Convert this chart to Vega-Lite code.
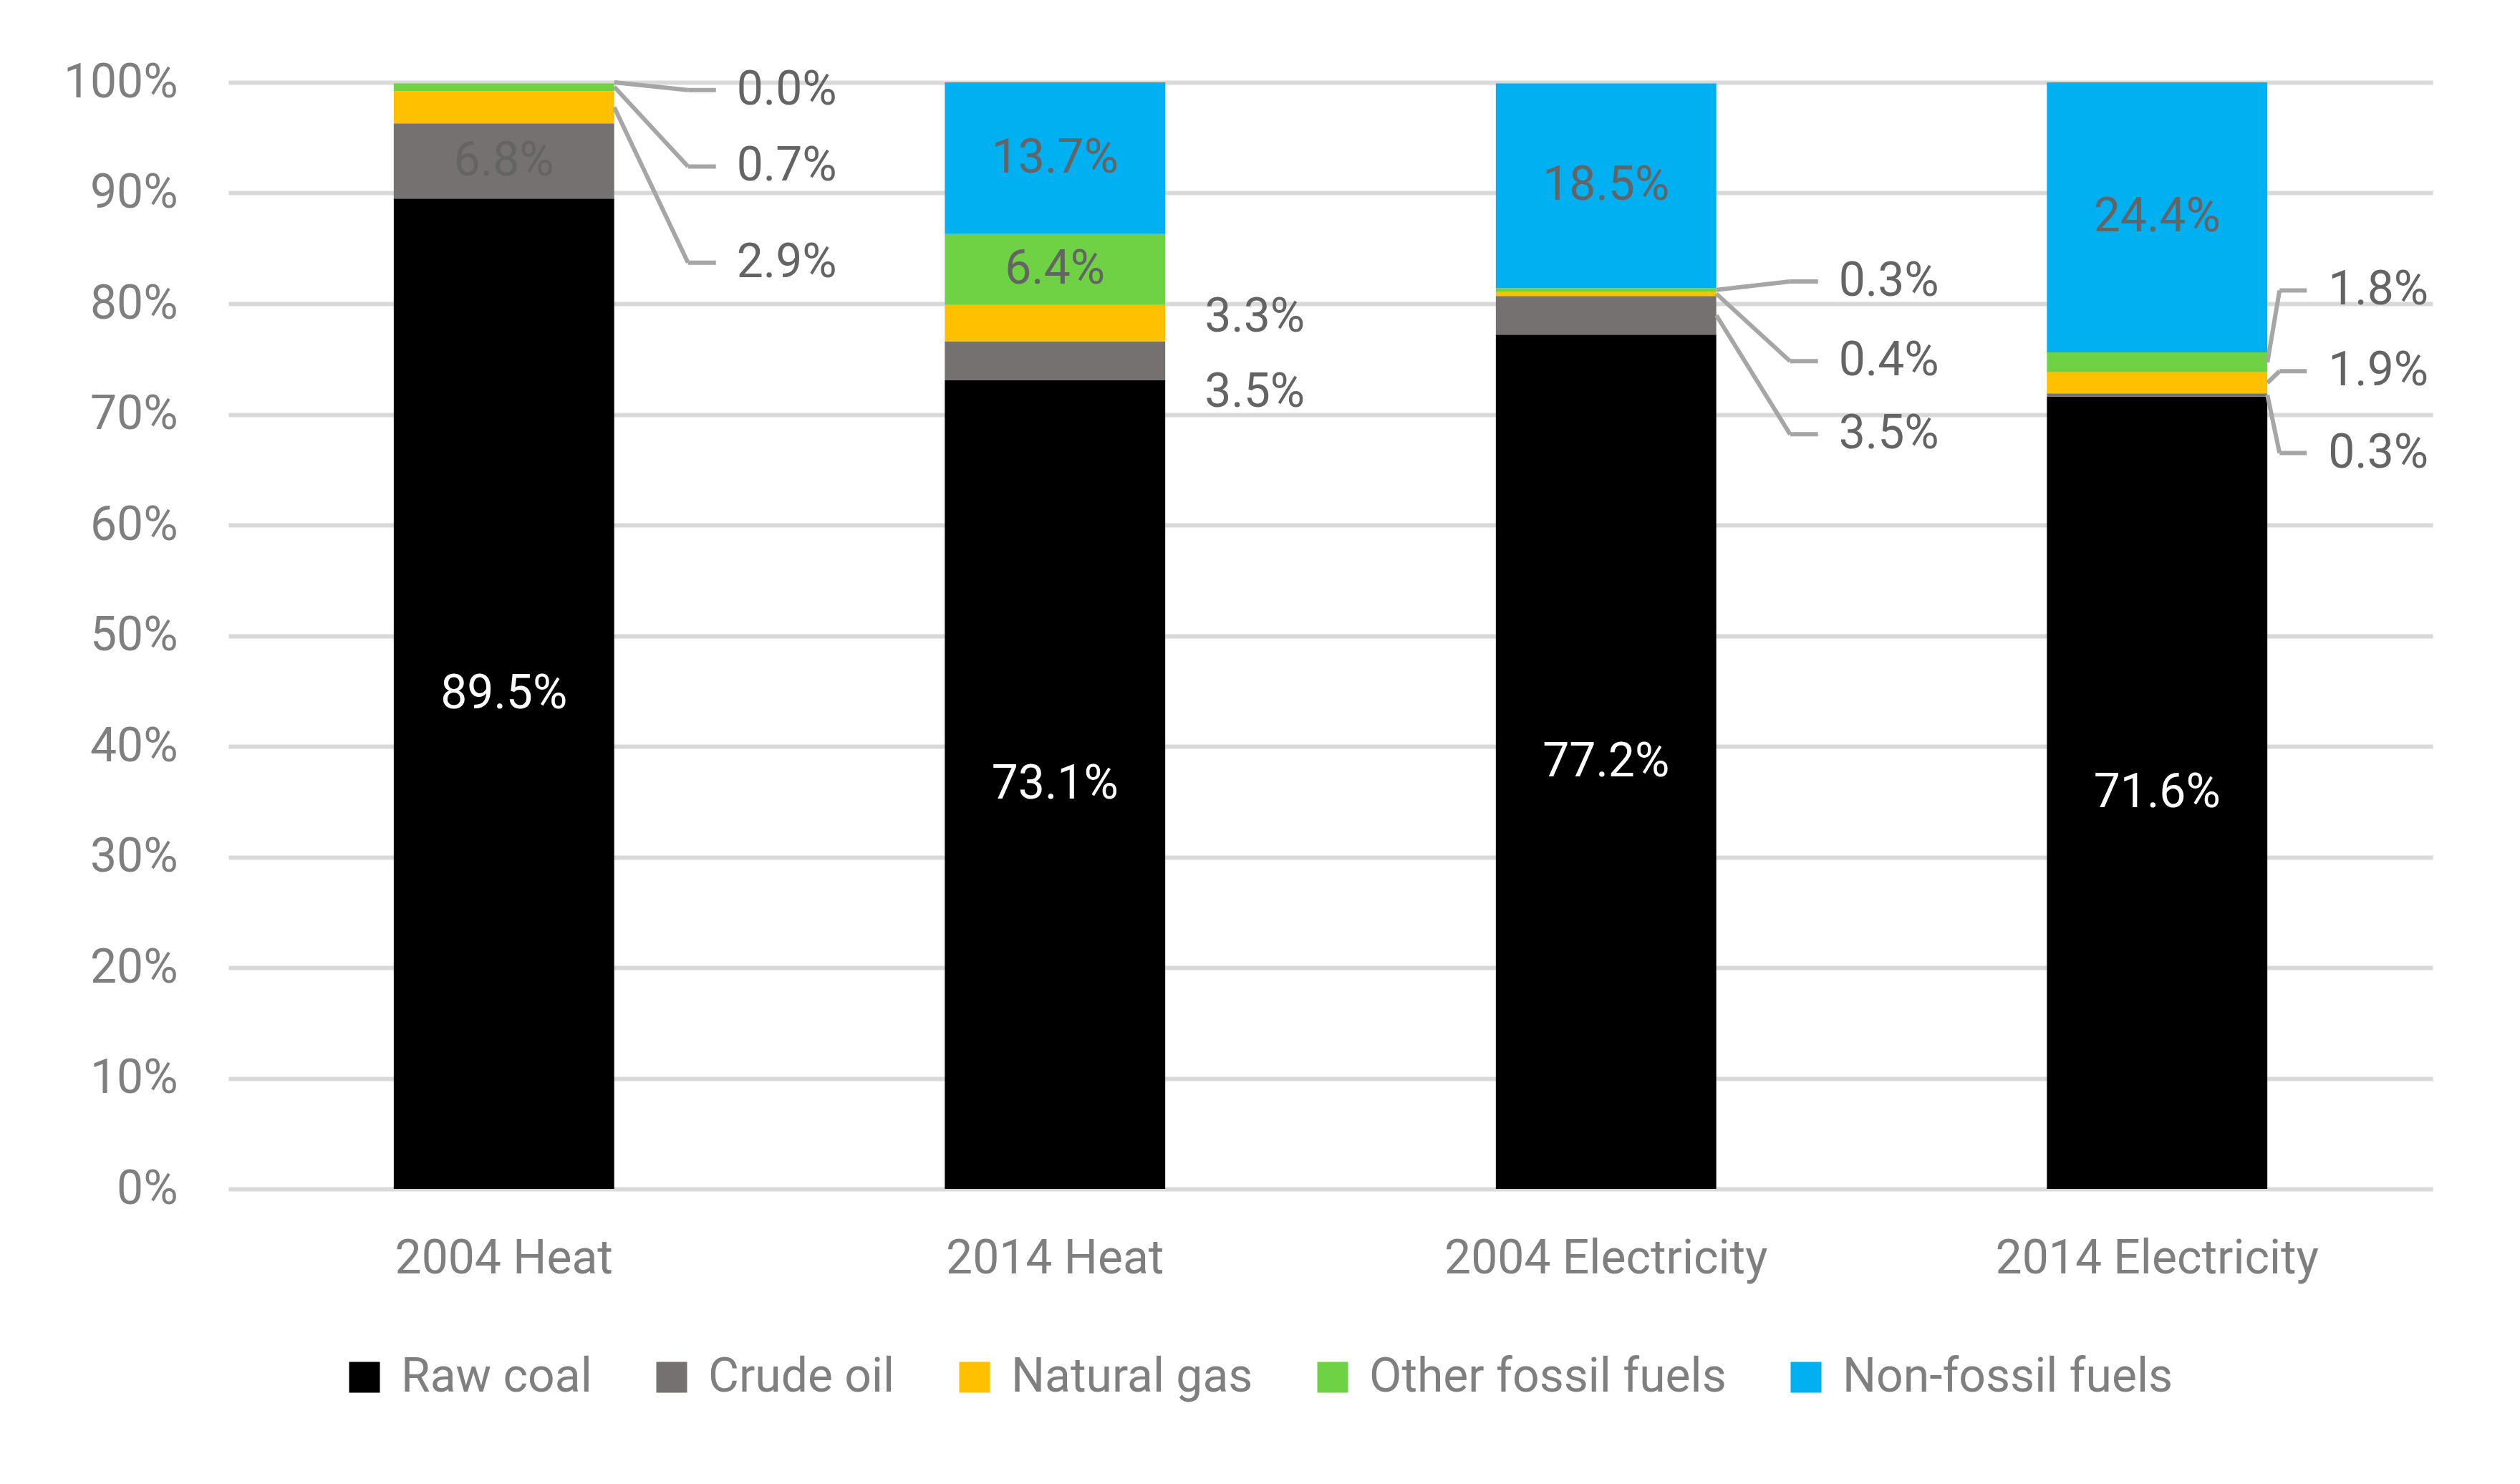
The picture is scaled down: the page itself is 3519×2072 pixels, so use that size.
{
  "$schema": "https://vega.github.io/schema/vega-lite/v6.json",
  "autosize": {"type": "none"},
  "width": 3078,
  "height": 1545,
  "padding": {"left": 319, "top": 115, "right": 122, "bottom": 412},
  "background": "white",
  "config": {
    "view": {"stroke": null},
    "font": "Roboto",
    "axis": {"labelFont": "Roboto", "labelLimit": 0},
    "legend": {"labelFont": "Roboto", "labelLimit": 0}
  },
  "datasets": {
    "shares": [
      {"category": "2004 Heat", "series": "Raw coal", "rank": 1, "share": 0.895},
      {"category": "2004 Heat", "series": "Crude oil", "rank": 2, "share": 0.068},
      {"category": "2004 Heat", "series": "Natural gas", "rank": 3, "share": 0.029},
      {"category": "2004 Heat", "series": "Other fossil fuels", "rank": 4, "share": 0.007},
      {"category": "2004 Heat", "series": "Non-fossil fuels", "rank": 5, "share": 0.0},
      {"category": "2014 Heat", "series": "Raw coal", "rank": 1, "share": 0.731},
      {"category": "2014 Heat", "series": "Crude oil", "rank": 2, "share": 0.035},
      {"category": "2014 Heat", "series": "Natural gas", "rank": 3, "share": 0.033},
      {"category": "2014 Heat", "series": "Other fossil fuels", "rank": 4, "share": 0.064},
      {"category": "2014 Heat", "series": "Non-fossil fuels", "rank": 5, "share": 0.137},
      {"category": "2004 Electricity", "series": "Raw coal", "rank": 1, "share": 0.772},
      {"category": "2004 Electricity", "series": "Crude oil", "rank": 2, "share": 0.035},
      {"category": "2004 Electricity", "series": "Natural gas", "rank": 3, "share": 0.004},
      {"category": "2004 Electricity", "series": "Other fossil fuels", "rank": 4, "share": 0.003},
      {"category": "2004 Electricity", "series": "Non-fossil fuels", "rank": 5, "share": 0.185},
      {"category": "2014 Electricity", "series": "Raw coal", "rank": 1, "share": 0.716},
      {"category": "2014 Electricity", "series": "Crude oil", "rank": 2, "share": 0.003},
      {"category": "2014 Electricity", "series": "Natural gas", "rank": 3, "share": 0.019},
      {"category": "2014 Electricity", "series": "Other fossil fuels", "rank": 4, "share": 0.018},
      {"category": "2014 Electricity", "series": "Non-fossil fuels", "rank": 5, "share": 0.244}
    ],
    "callouts": [
      {"category": "2004 Heat", "series": "Natural gas", "share": 0.029, "from": 0.9775, "to": 0.837},
      {"category": "2004 Heat", "series": "Other fossil fuels", "share": 0.007, "from": 0.996, "to": 0.924},
      {"category": "2004 Heat", "series": "Non-fossil fuels", "share": 0.0, "from": 1.0, "to": 0.993},
      {"category": "2014 Heat", "series": "Crude oil", "share": 0.035, "from": 0.7485, "to": 0.72},
      {"category": "2014 Heat", "series": "Natural gas", "share": 0.033, "from": 0.7825, "to": 0.788},
      {"category": "2004 Electricity", "series": "Crude oil", "share": 0.035, "from": 0.7895, "to": 0.682},
      {"category": "2004 Electricity", "series": "Natural gas", "share": 0.004, "from": 0.809, "to": 0.748},
      {"category": "2004 Electricity", "series": "Other fossil fuels", "share": 0.003, "from": 0.8125, "to": 0.82},
      {"category": "2014 Electricity", "series": "Crude oil", "share": 0.003, "from": 0.7175, "to": 0.665},
      {"category": "2014 Electricity", "series": "Natural gas", "share": 0.019, "from": 0.7285, "to": 0.739},
      {"category": "2014 Electricity", "series": "Other fossil fuels", "share": 0.018, "from": 0.747, "to": 0.812}
    ]
  },
  "layer": [
    {
      "data": {"name": "shares"},
      "mark": {"type": "bar"},
      "encoding": {
        "x": {
          "field": "category", "type": "nominal", "title": null,
          "scale": {"domain": ["2004 Heat", "2014 Heat", "2004 Electricity", "2014 Electricity"], "paddingInner": 0.6, "paddingOuter": 0.3},
          "axis": {"labelAngle": 0, "labelFontSize": 66, "labelColor": "#7F7F7F", "labelPadding": 65, "labelLimit": 0, "ticks": false, "tickSize": 0, "domain": false, "grid": false}
        },
        "y": {
          "field": "share", "type": "quantitative", "stack": "zero", "title": null,
          "scale": {"domain": [0, 1], "nice": false},
          "axis": {"format": ".0%", "values": [0, 0.1, 0.2, 0.3, 0.4, 0.5, 0.6, 0.7, 0.8, 0.9, 1], "labelFontSize": 66, "labelColor": "#7F7F7F", "labelPadding": 71, "ticks": false, "tickSize": 0, "domain": false, "gridColor": "#D9D9D9", "gridWidth": 6}
        },
        "color": {
          "field": "series", "type": "nominal",
          "scale": {"domain": ["Raw coal", "Crude oil", "Natural gas", "Other fossil fuels", "Non-fossil fuels"], "range": ["#000000", "#767171", "#FFC000", "#6FD244", "#00B0F0"]},
          "legend": {"orient": "none", "legendX": 157, "legendY": 1775, "direction": "horizontal", "columns": 5, "title": null, "symbolType": "square", "symbolSize": 1850, "symbolStrokeWidth": 0, "labelFontSize": 66, "labelColor": "#7F7F7F", "labelOffset": 18, "labelLimit": 0, "columnPadding": 78}
        },
        "order": {"field": "rank", "type": "quantitative", "sort": "ascending"}
      }
    },
    {
      "data": {"name": "shares"},
      "mark": {"type": "text", "fontSize": 66, "align": "center", "baseline": "middle"},
      "encoding": {
        "x": {"field": "category", "type": "nominal", "title": null},
        "y": {"field": "share", "type": "quantitative", "stack": "zero", "bandPosition": 0.5, "title": null},
        "detail": {"field": "series", "type": "nominal"},
        "order": {"field": "rank", "type": "quantitative", "sort": "ascending"},
        "text": {"condition": {"test": "datum.share >= 0.05", "field": "share", "format": ".1%"}, "value": ""},
        "color": {"condition": {"test": "datum.series === 'Raw coal'", "value": "#FFFFFF"}, "value": "#646464"}
      }
    },
    {
      "data": {"name": "callouts"},
      "transform": [{"filter": "datum.category === '2004 Heat' || datum.category === '2004 Electricity'"}],
      "mark": {"type": "rule", "color": "#A6A6A6", "strokeWidth": 6, "xOffset": 154, "x2Offset": 257},
      "encoding": {
        "x": {"field": "category", "type": "nominal", "title": null},
        "x2": {"field": "category"},
        "y": {"field": "from", "type": "quantitative", "title": null},
        "y2": {"field": "to"}
      }
    },
    {
      "data": {"name": "callouts"},
      "transform": [{"filter": "datum.category === '2004 Heat' || datum.category === '2004 Electricity'"}],
      "mark": {"type": "rule", "color": "#A6A6A6", "strokeWidth": 6, "xOffset": 257, "x2Offset": 296},
      "encoding": {
        "x": {"field": "category", "type": "nominal", "title": null},
        "x2": {"field": "category"},
        "y": {"field": "to", "type": "quantitative", "title": null}
      }
    },
    {
      "data": {"name": "callouts"},
      "transform": [{"filter": "datum.category === '2004 Heat' || datum.category === '2004 Electricity'"}],
      "mark": {"type": "text", "fontSize": 66, "align": "center", "baseline": "middle", "dx": 395, "color": "#646464"},
      "encoding": {
        "x": {"field": "category", "type": "nominal", "title": null},
        "y": {"field": "to", "type": "quantitative", "title": null},
        "text": {"field": "share", "type": "quantitative", "format": ".1%"}
      }
    },
    {
      "data": {"name": "callouts"},
      "transform": [{"filter": "datum.category === '2014 Electricity'"}],
      "mark": {"type": "rule", "color": "#A6A6A6", "strokeWidth": 6, "xOffset": 154, "x2Offset": 171},
      "encoding": {
        "x": {"field": "category", "type": "nominal", "title": null},
        "x2": {"field": "category"},
        "y": {"field": "from", "type": "quantitative", "title": null},
        "y2": {"field": "to"}
      }
    },
    {
      "data": {"name": "callouts"},
      "transform": [{"filter": "datum.category === '2014 Electricity'"}],
      "mark": {"type": "rule", "color": "#A6A6A6", "strokeWidth": 6, "xOffset": 171, "x2Offset": 209},
      "encoding": {
        "x": {"field": "category", "type": "nominal", "title": null},
        "x2": {"field": "category"},
        "y": {"field": "to", "type": "quantitative", "title": null}
      }
    },
    {
      "data": {"name": "callouts"},
      "transform": [{"filter": "datum.category === '2014 Electricity'"}],
      "mark": {"type": "text", "fontSize": 66, "align": "center", "baseline": "middle", "dx": 309, "color": "#646464"},
      "encoding": {
        "x": {"field": "category", "type": "nominal", "title": null},
        "y": {"field": "to", "type": "quantitative", "title": null},
        "text": {"field": "share", "type": "quantitative", "format": ".1%"}
      }
    },
    {
      "data": {"name": "callouts"},
      "transform": [{"filter": "datum.category === '2014 Heat'"}],
      "mark": {"type": "text", "fontSize": 66, "align": "center", "baseline": "middle", "dx": 279, "color": "#646464"},
      "encoding": {
        "x": {"field": "category", "type": "nominal", "title": null},
        "y": {"field": "to", "type": "quantitative", "title": null},
        "text": {"field": "share", "type": "quantitative", "format": ".1%"}
      }
    }
  ]
}
